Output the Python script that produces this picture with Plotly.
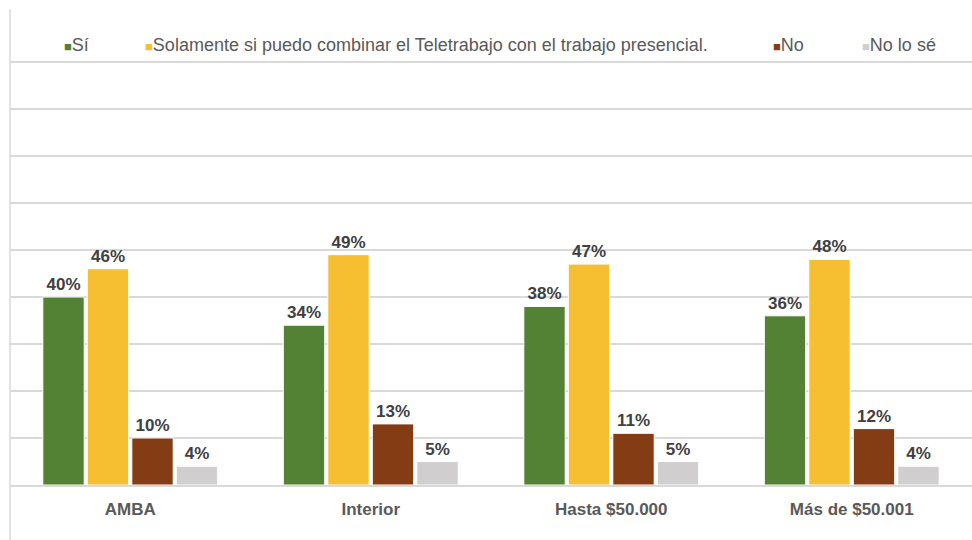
import plotly.graph_objects as go

# Survey responses by region and income bracket (percent)
categories = ["AMBA", "Interior", "Hasta $50.000", "Más de $50.001"]
series_names = [
    "Sí",
    "Solamente si puedo combinar el Teletrabajo con el trabajo presencial.",
    "No",
    "No lo sé",
]
si = [40, 34, 38, 36]
solamente = [46, 49, 47, 48]
no = [10, 13, 11, 12]
no_lo_se = [4, 5, 5, 4]

series_values = [si, solamente, no, no_lo_se]
colors = ["#548235", "#F6BE31", "#843C15", "#D0CECE"]

FONT = "Liberation Sans, Arial, sans-serif"
GRID = "#D9D9D9"

fig = go.Figure()
for name, vals, col in zip(series_names, series_values, colors):
    fig.add_trace(go.Bar(
        x=categories,
        y=vals,
        name=name,
        marker=dict(color=col, line=dict(color="white", width=1)),
        text=[f"{v}%" for v in vals],
        textposition="outside",
        textfont=dict(family=FONT, size=17, color="#404040", weight="bold"),
        cliponaxis=False,
        showlegend=False,
    ))

# Legend row drawn as coloured squares followed by the series name
legend_x_px = [62, 143, 771, 860]
plot_left, plot_w = 10, 962
for name, col, px in zip(series_names, colors, legend_x_px):
    fig.add_annotation(
        xref="paper", yref="paper",
        x=(px - plot_left) / plot_w, y=(485 - 45) / 470,
        xanchor="left", yanchor="middle",
        text=f"<span style='color:{col};font-size:13px'>■</span>{name}",
        showarrow=False,
        font=dict(family=FONT, size=18, color="#595959"),
    )

# Left frame line
fig.add_shape(
    type="line", xref="paper", yref="paper",
    x0=0, x1=0, y0=-0.12, y1=1.012,
    line=dict(color=GRID, width=1.5),
)

fig.update_layout(
    width=972, height=540,
    margin=dict(l=10, r=0, t=15, b=55),
    paper_bgcolor="white", plot_bgcolor="white",
    barmode="group",
    bargap=0.26,
    bargroupgap=0.07,
    font=dict(family=FONT),
    xaxis=dict(
        showline=True, linecolor=GRID, linewidth=1.5,
        ticks="", showgrid=False,
        tickfont=dict(family=FONT, size=17, color="#595959", weight="bold"),
        ticklabelstandoff=8,
    ),
    yaxis=dict(
        range=[0, 100], dtick=10,
        showticklabels=False, showgrid=True,
        gridcolor=GRID, gridwidth=1.5, zeroline=False,
    ),
)

fig.write_html("out.html")
